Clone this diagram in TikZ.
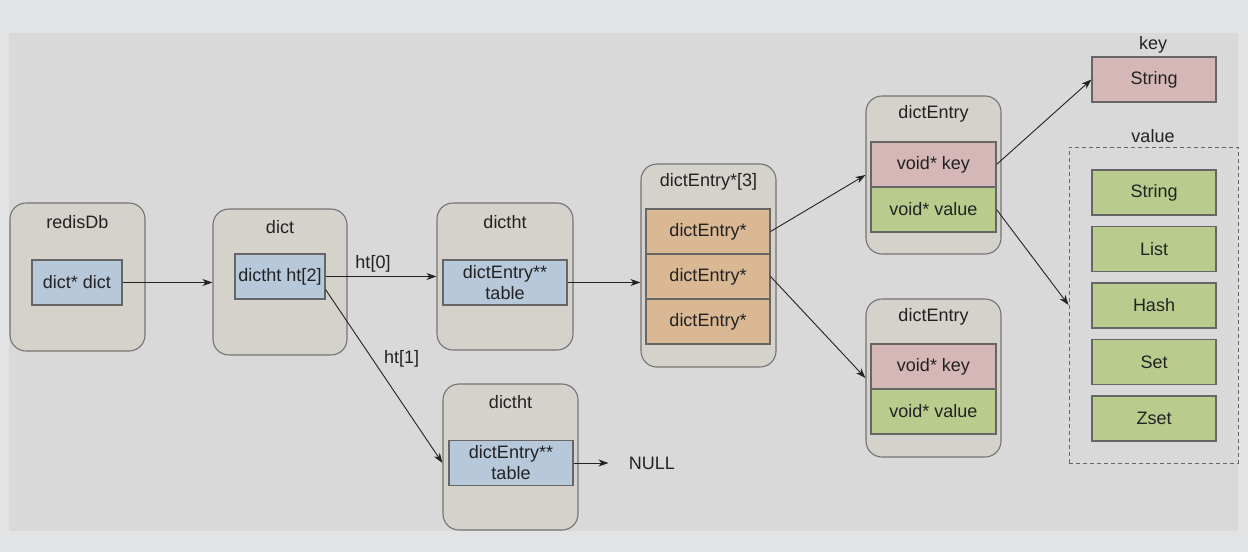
\documentclass[tikz,border=0pt]{standalone}
\usepackage{fontspec}
\setmainfont{Liberation Sans}
\usepackage{tikz}
\usetikzlibrary{arrows.meta}
\usetikzlibrary{positioning}

\definecolor{pagebg}{HTML}{E2E3E5}
\definecolor{panelbg}{HTML}{D9D9D9}
\definecolor{structbg}{HTML}{D4D2CB}
\definecolor{ptrblue}{HTML}{B6C8DA}
\definecolor{slotorange}{HTML}{DAB894}
\definecolor{keypink}{HTML}{D6B7B8}
\definecolor{valgreen}{HTML}{B9CC8E}
\definecolor{ink}{HTML}{222222}

\tikzset{
	structbox/.style={draw=black!55,line width=1.1pt,fill=structbg,rounded corners=16pt,
		minimum width=#1,inner sep=0pt},
	structbox/.default=135pt,
	title/.style={text=ink},
	cell/.style={draw=black!60,line width=1.1pt,minimum width=124pt,minimum height=45pt,
		inner sep=0pt,align=center,text=ink},
	ptr/.style={->,line width=0.9pt,draw=ink},
}

\begin{document}
\begin{tikzpicture}[x=1pt,y=-1pt,font=\fontsize{18}{21}\selectfont,
		>={Stealth[length=10pt,width=7pt,inset=3pt]}]
			\useasboundingbox[fill=pagebg] (0,0) rectangle (1248,552);
			\fill[panelbg] (9,33) rectangle (1238,531);
			
			% redisDb
			\node[structbox,minimum height=148pt] (db) at (77.5,277) {};
			\node[title] (dbtitle) at (77.5,222) {redisDb};
			\node[cell,fill=ptrblue,minimum width=90pt] (dbdict) at (77,282.5) {dict* dict};
			
			% dict
			\node[structbox=134pt,minimum height=146pt] (dict) at (280,282) {};
			\node[title] (dicttitle) at (280,227) {dict};
			\node[cell,fill=ptrblue,minimum width=90pt] (dictht) at (280,276.5) {dictht ht[2]};
			
			% dictht ht[0]
			\node[structbox=136pt,minimum height=147pt] (ht0) at (505,276.5) {};
			\node[title] (ht0title) at (505,222) {dictht};
			\node[cell,fill=ptrblue] (table0) at (505,282.5) {dictEntry**\\table};
			
			% dictht ht[1]
			\node[structbox,minimum height=146pt] (ht1) at (510.5,457) {};
			\node[title] (ht1title) at (510.5,402) {dictht};
			\node[cell,fill=ptrblue] (table1) at (511,463) {dictEntry**\\table};
			\node[text=ink] (null) at (652,463) {NULL};
			
			% dictEntry*[3]
			\node[structbox,minimum height=203pt] (slots) at (708.5,265.5) {};
			\node[title] (slotstitle) at (708.5,182) {dictEntry*[3]};
			\foreach \i in {1,2,3} {
				\pgfmathsetmacro{\yy}{231.5 + (\i - 1) * 45}
				\node[cell,fill=slotorange] (slot\i) at (708,\yy) {dictEntry*};
			}
			
			% dictEntry
			\node[structbox,minimum height=158pt] (entryA) at (933.5,175) {};
			\node[title] (entryAtitle) at (933.5,114) {dictEntry};
			\node[cell,fill=keypink,minimum width=125pt] (keyA) at (933.5,164.5) {void* key};
			\node[cell,fill=valgreen,minimum width=125pt] (valA) at (933.5,209.5) {void* value};
			
			\node[structbox,minimum height=158pt] (entryB) at (933.5,378) {};
			\node[title] (entryBtitle) at (933.5,317) {dictEntry};
			\node[cell,fill=keypink,minimum width=125pt] (keyB) at (933.5,366.5) {void* key};
			\node[cell,fill=valgreen,minimum width=125pt] (valB) at (933.5,411.5) {void* value};
			
			% key / value objects
			\node[title] (keylabel) at (1153,45) {key};
			\node[cell,fill=keypink] (keystr) at (1154,79.5) {String};
			\node[title] (vallabel) at (1153,136) {value};
			\node[draw=black!60,line width=0.9pt,dash pattern=on 4pt off 3pt,
				minimum width=169pt,minimum height=316pt,inner sep=0pt] (types) at (1153.5,305) {};
			\foreach \t [count=\i] in {String,List,Hash,Set,Zset} {
				\pgfmathsetmacro{\yy}{192.5 + (\i - 1) * 56.5}
				\node[cell,fill=valgreen] (type\i) at (1154,\yy) {\t};
			}
			
			\draw[ptr] (dbdict) -- (dbdict -| dict.west);
			\draw[ptr] (dictht) -- node[above,text=ink,xshift=-8pt] {ht[0]} (dictht -| ht0.west);
			\draw[ptr] ([yshift=-13pt]dictht.east) -- node[pos=0.4,right,text=ink,xshift=8pt] {ht[1]} (table1.west -| ht1.west);
			\draw[ptr] (table0) -- (table0 -| slots.west);
			\draw[ptr,shorten >=17pt] (table1) -- (null);
			\draw[ptr] (slot1.east) -- (entryA.west);
			\draw[ptr] (slot2.east) -- (entryB.west);
			\draw[ptr] (keyA.east) -- (keystr.west);
			\draw[ptr] (valA.east) -- (types.west);
			
		\end{tikzpicture}
\end{document}
